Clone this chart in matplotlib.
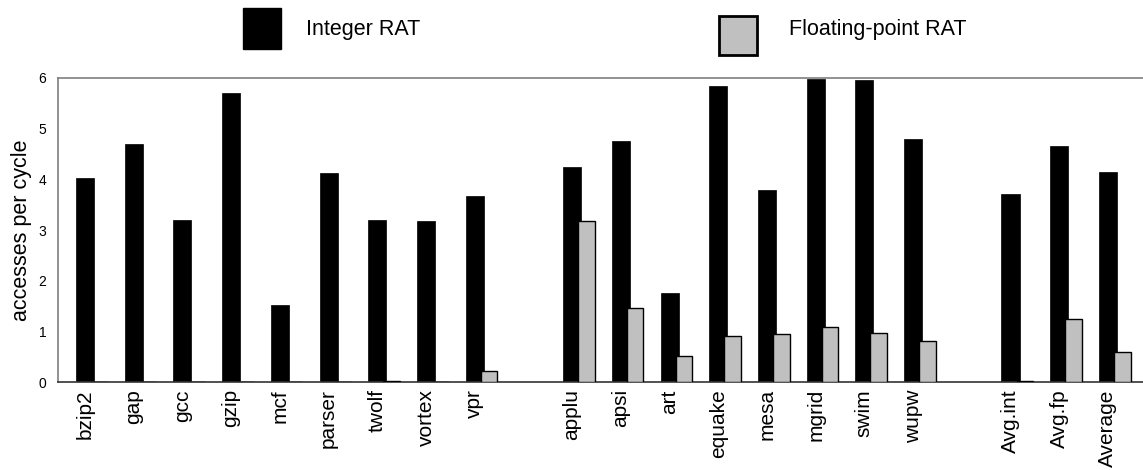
import matplotlib
matplotlib.use("Agg")
import matplotlib.pyplot as plt
from matplotlib.patches import Rectangle
from matplotlib import font_manager

# Benchmarks, grouped: SPECint, SPECfp, averages
int_names = ["bzip2", "gap", "gcc", "gzip", "mcf", "parser", "twolf", "vortex", "vpr"]
fp_names = ["applu", "apsi", "art", "equake", "mesa", "mgrid", "swim", "wupw"]
avg_names = ["Avg.int", "Avg.fp", "Average"]

int_rat_int = [4.02, 4.69, 3.19, 5.70, 1.52, 4.12, 3.19, 3.18, 3.67]
int_rat_fp = [4.24, 4.75, 1.76, 5.84, 3.79, 5.97, 5.95, 4.79]
int_rat_avg = [3.71, 4.66, 4.14]

fp_rat_int = [0.0, 0.0, 0.0, 0.0, 0.0, 0.0, 0.02, 0.0, 0.22]
fp_rat_fp = [3.17, 1.46, 0.52, 0.91, 0.95, 1.08, 0.98, 0.81]
fp_rat_avg = [0.02, 1.24, 0.59]

y_ticks = [0, 1, 2, 3, 4, 5, 6]

names_avail = {f.name for f in font_manager.fontManager.ttflist}
narrow = "Liberation Sans Narrow" if "Liberation Sans Narrow" in names_avail else "Liberation Sans"
regular = "Liberation Sans"

# x positions with one empty slot between groups
groups = [(int_names, int_rat_int, fp_rat_int),
          (fp_names, int_rat_fp, fp_rat_fp),
          (avg_names, int_rat_avg, fp_rat_avg)]
xs, labels, ivals, fvals = [], [], [], []
pos = 0
for names, iv, fv in groups:
    for n, a, b in zip(names, iv, fv):
        xs.append(pos)
        labels.append(n)
        ivals.append(a)
        fvals.append(b)
        pos += 1
    pos += 1

fig = plt.figure(figsize=(11.43, 4.70), dpi=100)
ax = fig.add_axes([58 / 1143, 1 - 382.3 / 470, 1 - 58 / 1143, (382.3 - 77.7) / 470])

w_int = 0.37
w_fp = 0.34
off_fp = 0.294
ax.bar(xs, ivals, width=w_int, color="black", edgecolor="black", linewidth=0.5, zorder=2)
ax.bar([x + off_fp for x in xs], fvals, width=w_fp, color="#c0c0c0",
       edgecolor="black", linewidth=1.0, zorder=3)

ax.set_xlim(-0.554, 21.72)
ax.set_ylim(0, 6)
ax.set_yticks(y_ticks)
ax.set_yticklabels([str(t) for t in y_ticks], fontfamily=narrow, fontsize=10)
ax.tick_params(axis="y", length=0, pad=8.5)
ax.set_xticks(xs)
ax.set_xticklabels(labels, rotation=90, fontfamily=regular, fontsize=15, va="top")
ax.tick_params(axis="x", length=0, pad=5)

ax.set_ylabel("accesses per cycle", fontfamily=regular, fontsize=15.5, labelpad=4.5)

ax.spines["right"].set_visible(False)
ax.spines["left"].set_color("#7f7f7f")
ax.spines["top"].set_color("#7f7f7f")
ax.spines["bottom"].set_color("#333333")
for s in ("left", "top", "bottom"):
    ax.spines[s].set_linewidth(1.2)

# Legend drawn in figure pixel coordinates
W, H = 1143, 470
def fig_rect(x0, y0, x1, y1, **kw):
    fig.patches.append(Rectangle((x0 / W, 1 - y1 / H), (x1 - x0) / W, (y1 - y0) / H,
                                 transform=fig.transFigure, figure=fig, **kw))

fig_rect(242.7, 8.3, 281.3, 49, facecolor="black", edgecolor="black", linewidth=1)
fig.text(306 / W, 1 - 29.5 / H, "Integer RAT", fontfamily=narrow, fontsize=15.5, va="center", ha="left")
fig_rect(719, 15.7, 757, 55, facecolor="#c0c0c0", edgecolor="black", linewidth=2)
fig.text(789 / W, 1 - 29.5 / H, "Floating-point RAT", fontfamily=narrow, fontsize=15.5, va="center", ha="left")

fig.savefig("out.png", dpi=100)
